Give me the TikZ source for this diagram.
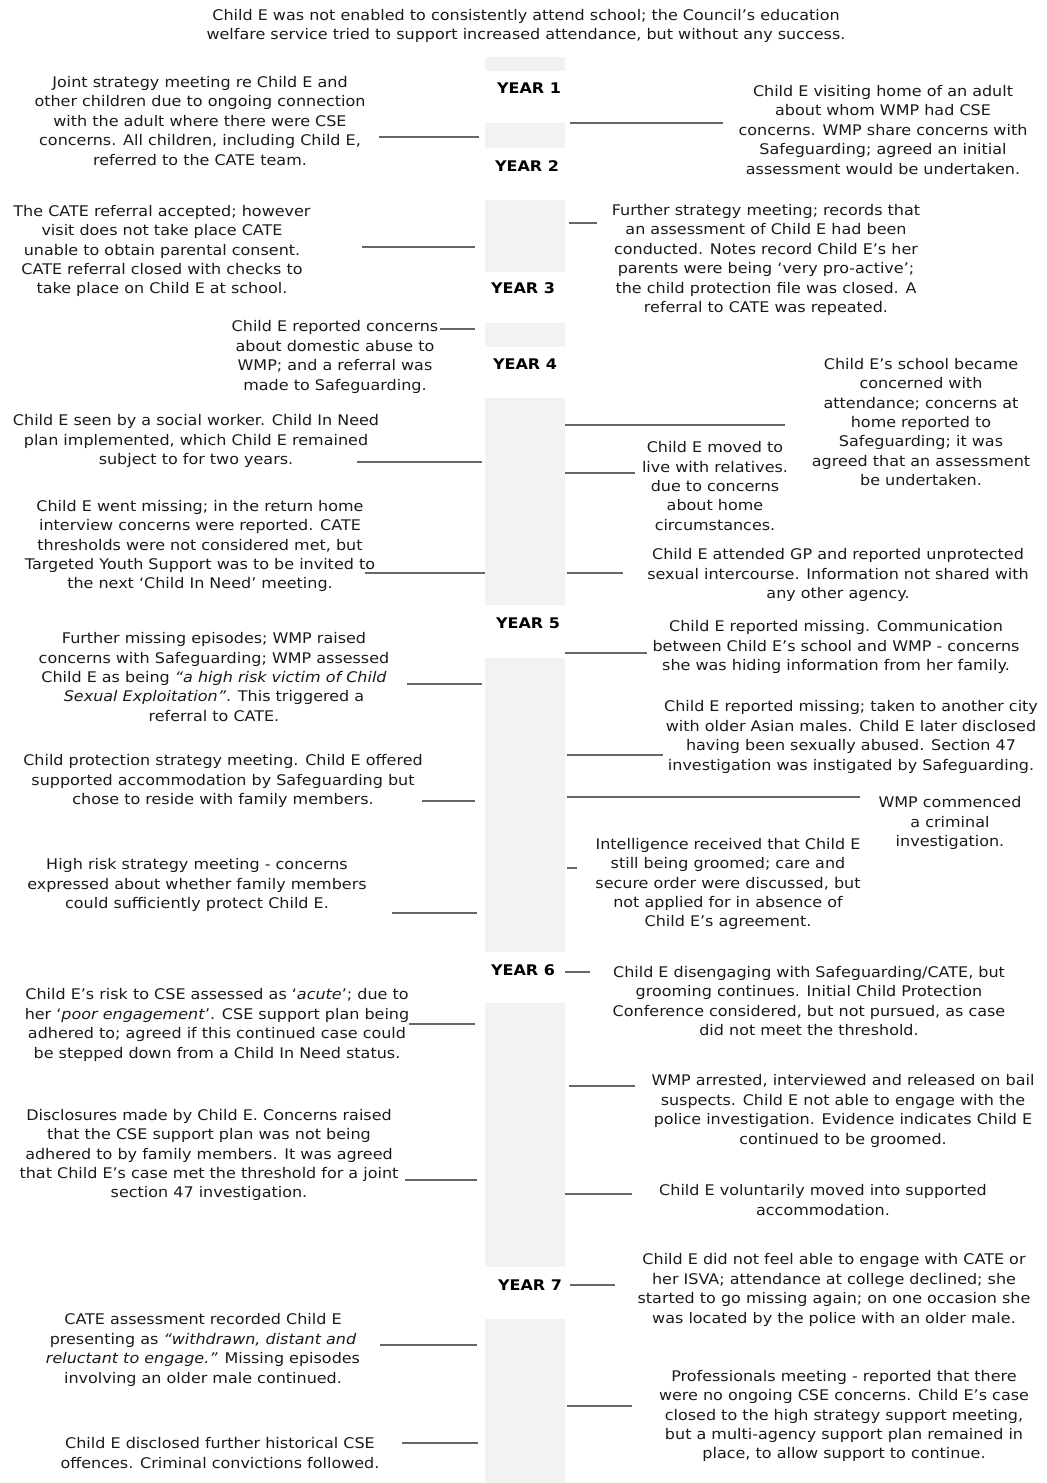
\documentclass[tikz,border=0pt]{standalone}
\usepackage{fontspec}
\setmainfont{DejaVu Sans}[FakeStretch=1.09]
\definecolor{barfill}{HTML}{F2F2F2}
\definecolor{txt}{HTML}{1A1A1A}
\definecolor{linec}{HTML}{666666}
\begin{document}
\begin{tikzpicture}[x=0.75pt,y=-0.75pt,
  every node/.style={inner sep=0pt,outer sep=0pt},
  note/.style={align=center,text=txt,font=\fontsize{11}{14.6}\selectfont},
  yearlbl/.style={text=black,font=\fontsize{11}{14.6}\selectfont\bfseries},
  bar/.style={fill=barfill,draw=none},
  conn/.style={draw=linec,line width=0.9pt}]
\useasboundingbox (0,0) rectangle (1046,1483);
% central timeline bar
\foreach \a/\b in {57/71,123/148,200/272,323/347,398/605,658/952,1003/1267,1319/1483}
  \fill[bar] (485,\a) rectangle (565,\b);
% year labels
\node[yearlbl] (y1) at (529,88) {YEAR 1};
\node[yearlbl] (y2) at (527,166) {YEAR 2};
\node[yearlbl] (y3) at (523,288) {YEAR 3};
\node[yearlbl] (y4) at (525,364) {YEAR 4};
\node[yearlbl] (y5) at (528,623) {YEAR 5};
\node[yearlbl] (y6) at (523,970) {YEAR 6};
\node[yearlbl] (y7) at (530,1285) {YEAR 7};
% text notes
\node[note] (top) at (526,26) {Child E was not enabled to consistently attend school; the Council’s education\\welfare service tried to support increased attendance, but without any success.};
\node[note] (l1) at (200,121) {Joint strategy meeting re Child E and\\other children due to ongoing connection\\with the adult where there were CSE\\concerns. All children, including Child E,\\referred to the CATE team.};
\node[note] (r1) at (883,130) {Child E visiting home of an adult\\about whom WMP had CSE\\concerns. WMP share concerns with\\Safeguarding; agreed an initial\\assessment would be undertaken.};
\node[note] (l2) at (162,251) {The CATE referral accepted; however\\visit does not take place CATE\\unable to obtain parental consent.\\CATE referral closed with checks to\\take place on Child E at school.};
\node[note] (r2) at (766,260) {Further strategy meeting; records that\\an assessment of Child E had been\\conducted. Notes record Child E’s her\\parents were being ‘very pro-active’;\\the child protection file was closed. A\\referral to CATE was repeated.};
\node[note] (l3) at (335,357) {Child E reported concerns\\about domestic abuse to\\WMP; and a referral was\\made to Safeguarding.};
\node[note] (r3) at (921,422) {Child E’s school became\\concerned with\\attendance; concerns at\\home reported to\\Safeguarding; it was\\agreed that an assessment\\be undertaken.};
\node[note] (l4) at (196,441) {Child E seen by a social worker. Child In Need\\plan implemented, which Child E remained\\subject to for two years.};
\node[note] (r4) at (715,486) {Child E moved to\\live with relatives.\\due to concerns\\about home\\circumstances.};
\node[note] (l5) at (200,546) {Child E went missing; in the return home\\interview concerns were reported. CATE\\thresholds were not considered met, but\\Targeted Youth Support was to be invited to\\the next ‘Child In Need’ meeting.};
\node[note] (r5) at (838,575) {Child E attended GP and reported unprotected\\sexual intercourse. Information not shared with\\any other agency.};
\node[note] (l6) at (214,677) {Further missing episodes; WMP raised\\concerns with Safeguarding; WMP assessed\\Child E as being \textit{“a high risk victim of Child}\\\textit{Sexual Exploitation”}. This triggered a\\referral to CATE.};
\node[note] (r6) at (836,647) {Child E reported missing. Communication\\between Child E’s school and WMP - concerns\\she was hiding information from her family.};
\node[note] (r7) at (851,737) {Child E reported missing; taken to another city\\with older Asian males. Child E later disclosed\\having been sexually abused. Section 47\\investigation was instigated by Safeguarding.};
\node[note] (l7) at (223,781) {Child protection strategy meeting. Child E offered\\supported accommodation by Safeguarding but\\chose to reside with family members.};
\node[note] (r8) at (950,823) {WMP commenced\\a criminal\\investigation.};
\node[note] (r9) at (728,884) {Intelligence received that Child E\\still being groomed; care and\\secure order were discussed, but\\not applied for in absence of\\Child E’s agreement.};
\node[note] (l8) at (197,885) {High risk strategy meeting - concerns\\expressed about whether family members\\could sufficiently protect Child E.};
\node[note] (r10) at (809,1001) {Child E disengaging with Safeguarding/CATE, but\\grooming continues. Initial Child Protection\\Conference considered, but not pursued, as case\\did not meet the threshold.};
\node[note] (l9) at (217,1025) {Child E’s risk to CSE assessed as ‘\textit{acute}’; due to\\her ‘\textit{poor engagement}’. CSE support plan being\\adhered to; agreed if this continued case could\\be stepped down from a Child In Need status.};
\node[note] (r11) at (843,1111) {WMP arrested, interviewed and released on bail\\suspects. Child E not able to engage with the\\police investigation. Evidence indicates Child E\\continued to be groomed.};
\node[note] (l10) at (209,1155) {Disclosures made by Child E. Concerns raised\\that the CSE support plan was not being\\adhered to by family members. It was agreed\\that Child E’s case met the threshold for a joint\\section 47 investigation.};
\node[note] (r12) at (823,1200) {Child E voluntarily moved into supported\\accommodation.};
\node[note] (r13) at (834,1290) {Child E did not feel able to engage with CATE or\\her ISVA; attendance at college declined; she\\started to go missing again; on one occasion she\\was located by the police with an older male.};
\node[note] (l11) at (203,1350) {CATE assessment recorded Child E\\presenting as \textit{“withdrawn, distant and}\\\textit{reluctant to engage.”} Missing episodes\\involving an older male continued.};
\node[note] (r14) at (844,1416) {Professionals meeting - reported that there\\were no ongoing CSE concerns. Child E’s case\\closed to the high strategy support meeting,\\but a multi-agency support plan remained in\\place, to allow support to continue.};
\node[note] (l12) at (220,1453) {Child E disclosed further historical CSE\\offences. Criminal convictions followed.};
% connector end points
\foreach \n/\xa/\xb/\yy in {c1/379/479/137, c2/570/723/123, c3/362/475/247, c4/569/597/223,
  c5/440/475/329, c6/565/785/425, c7/357/482/462, c8/565/635/473, c9/365/485/573,
  c10/567/623/573, c11/565/647/653, c12/407/482/684, c13/567/663/755, c14/422/475/801,
  c15/567/860/797, c16/567/577/868, c17/392/477/913, c18/565/590/972, c19/409/475/1024,
  c20/569/635/1086, c21/405/477/1180, c22/565/632/1194, c23/570/615/1285, c24/380/477/1345,
  c25/567/632/1406, c26/402/478/1443}
{
  \coordinate (\n a) at (\xa,\yy);
  \coordinate (\n b) at (\xb,\yy);
  \draw[conn] (\n a) -- (\n b);
}
\end{tikzpicture}
\end{document}
